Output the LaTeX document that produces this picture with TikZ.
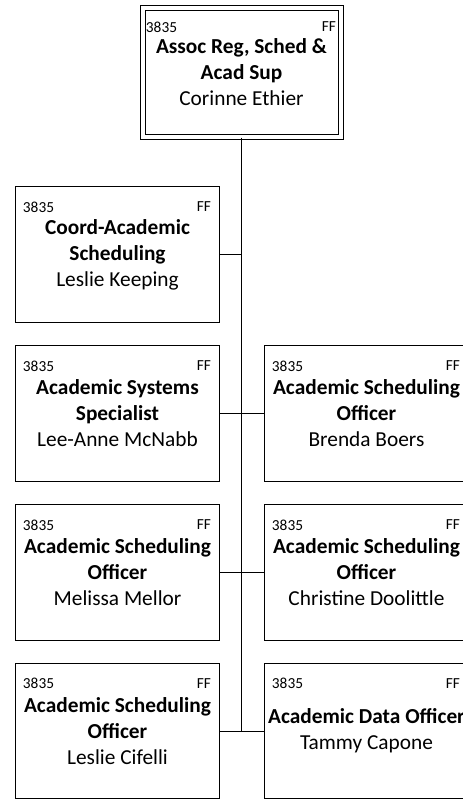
\documentclass[tikz,border=0pt]{standalone}
\usepackage{fontspec}
\setmainfont{Carlito}
\usetikzlibrary{positioning}

\begin{document}
\begin{tikzpicture}[
  x=0.75pt, y=-0.75pt, line width=0.75pt,
  font=\fontsize{16}{19.5}\selectfont,
  lnum/.style={anchor=north west, inner sep=0pt,
               font=\fontsize{11.5}{14}\selectfont, xshift=5.6pt, yshift=-11.25pt},
  lff/.style={anchor=north east, inner sep=0pt,
              font=\fontsize{11.5}{14}\selectfont, xshift=-6.4pt, yshift=-11.25pt},
  job/.style={draw, minimum width=153pt, minimum height=101.5pt,
              align=center, inner sep=0pt,
              execute at begin node={\rule{0pt}{14.5pt}},
              label={[lnum]north west:3835}, label={[lff]north east:FF}},
  boss/.style={draw, double, double distance=3pt,
               minimum width=148.5pt, minimum height=96.75pt,
               align=center, inner sep=0pt,
               execute at begin node={\rule{0pt}{14.5pt}},
               label={[lnum, xshift=-3pt, yshift=0.75pt]north west:3835},
               label={[lff, xshift=3pt, yshift=0.75pt]north east:FF}},
  link/.style={line width=0.75pt},
]
\useasboundingbox (0,0) rectangle (463,800);

\node[boss] (ethier)    at (241.5,72.5) {\textbf{Assoc Reg, Sched \&}\\\textbf{Acad Sup}\\Corinne Ethier};
\node[job]  (keeping)   at (117.5,254.5) {\textbf{Coord-Academic}\\\textbf{Scheduling}\\Leslie Keeping};
\node[job]  (mcnabb)    at (117.5,413.5) {\textbf{Academic Systems}\\\textbf{Specialist}\\Lee-Anne McNabb};
\node[job]  (boers)     at (366.5,413.5) {\textbf{Academic Scheduling}\\\textbf{Officer}\\Brenda Boers};
\node[job]  (mellor)    at (117.5,572.5) {\textbf{Academic Scheduling}\\\textbf{Officer}\\Melissa Mellor};
\node[job]  (doolittle) at (366.5,572.5) {\textbf{Academic Scheduling}\\\textbf{Officer}\\Christine Doolittle};
\node[job]  (cifelli)   at (117.5,731)   {\textbf{Academic Scheduling}\\\textbf{Officer}\\Leslie Cifelli};
\node[job]  (capone)    at (366.5,731)   {\textbf{Academic Data Officer}\\Tammy Capone};

\draw[link] (ethier.south) -- (ethier.south |- cifelli.east);
\draw[link] (keeping.east) -- (keeping.east -| ethier.south);
\draw[link] (mcnabb.east) -- (boers.west);
\draw[link] (mellor.east) -- (doolittle.west);
\draw[link] (cifelli.east) -- (capone.west);
\end{tikzpicture}
\end{document}
